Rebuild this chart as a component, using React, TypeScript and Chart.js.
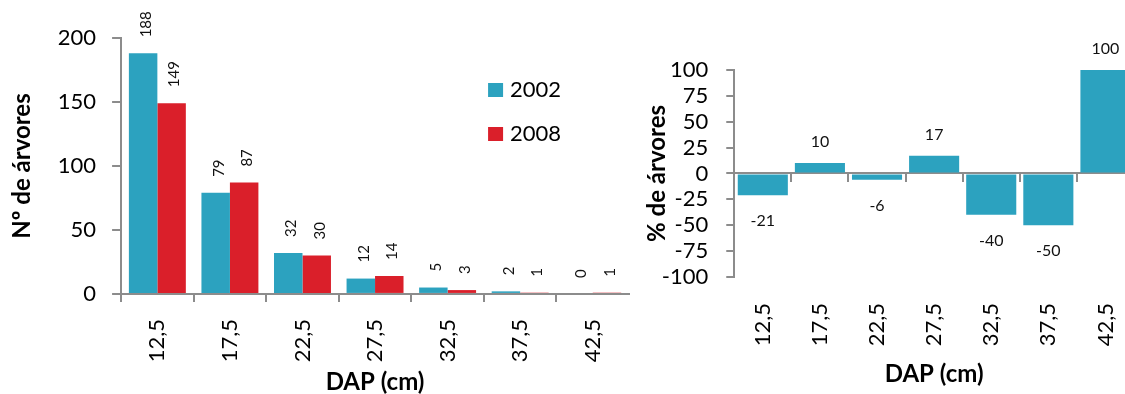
import React, { useEffect, useRef } from "react";
import { Chart, registerables } from "chart.js";

Chart.register(...registerables);

// ---- data ----
const categories = ["12,5", "17,5", "22,5", "27,5", "32,5", "37,5", "42,5"];
const seriesLabels = ["2002", "2008"];
const trees2002 = [188, 79, 32, 12, 5, 2, 0];
const trees2008 = [149, 87, 30, 14, 3, 1, 1];
const changePct = [-21, 10, -6, 17, -40, -50, 100];
const leftYTicks = { min: 0, max: 200, step: 50 };
const rightYTicks = { min: -100, max: 100, step: 25 };

// ---- styles ----
const FONT = "Lato";
const BLUE = "rgb(44,162,191)";
const RED = "rgb(218,31,42)";
const GRAY = "#8c8c8c";
const INK = "#000";

const noSidePadding = (scale: any) => {
  scale.paddingLeft = 0;
  scale.paddingRight = 0;
};

const rotatedValueLabels = {
  id: "rotatedValueLabels",
  afterDatasetsDraw(chart: any) {
    const ctx = chart.ctx;
    ctx.save();
    ctx.fillStyle = "#111";
    ctx.font = `15px ${FONT}`;
    ctx.textAlign = "left";
    ctx.textBaseline = "middle";
    chart.data.datasets.forEach((ds: any, i: number) => {
      const meta = chart.getDatasetMeta(i);
      meta.data.forEach((el: any, j: number) => {
        ctx.save();
        ctx.translate(el.x + 3, el.y - 16);
        ctx.rotate(-Math.PI / 2);
        ctx.fillText(String(ds.data[j]), 0, 0);
        ctx.restore();
      });
    });
    ctx.restore();
  },
};

const flatValueLabels = {
  id: "flatValueLabels",
  afterDatasetsDraw(chart: any) {
    const ctx = chart.ctx;
    ctx.save();
    ctx.fillStyle = "#111";
    ctx.font = `16px ${FONT}`;
    ctx.textAlign = "center";
    ctx.textBaseline = "middle";
    chart.data.datasets.forEach((ds: any, i: number) => {
      const meta = chart.getDatasetMeta(i);
      meta.data.forEach((el: any, j: number) => {
        const v = ds.data[j];
        const y = v >= 0 ? el.y - 21 : el.y + 26;
        ctx.fillText(String(v), el.x, y);
      });
    });
    ctx.restore();
  },
};

const boxLegend = {
  id: "boxLegend",
  afterDraw(chart: any) {
    const ctx = chart.ctx;
    const area = chart.chartArea;
    ctx.save();
    ctx.font = `22px ${FONT}`;
    ctx.textAlign = "left";
    ctx.textBaseline = "middle";
    chart.data.datasets.forEach((ds: any, i: number) => {
      const x = area.left + 367;
      const y = area.top + 45 + i * 44;
      ctx.fillStyle = ds.backgroundColor;
      ctx.fillRect(x, y, 15, 14);
      ctx.fillStyle = INK;
      ctx.fillText(ds.label, x + 22, y + 7);
    });
    ctx.restore();
  },
};

function leftConfig(): any {
  return {
    type: "bar",
    data: {
      labels: categories,
      datasets: [
        { label: seriesLabels[0], data: trees2002, backgroundColor: BLUE, categoryPercentage: 0.785, barPercentage: 1 },
        { label: seriesLabels[1], data: trees2008, backgroundColor: RED, categoryPercentage: 0.785, barPercentage: 1 },
      ],
    },
    options: {
      responsive: false,
      animation: false,
      layout: { padding: { top: 38, left: 0, right: 11, bottom: 0 } },
      plugins: { legend: { display: false }, tooltip: { enabled: false } },
      scales: {
        x: {
          offset: true,
          z: 1,
          afterFit: noSidePadding,
          grid: {
            offset: true,
            drawOnChartArea: false,
            drawTicks: true,
            tickLength: 8,
            lineWidth: 2,
            color: (c: any) => (c.type === "tick" ? GRAY : "rgba(0,0,0,0)"),
          },
          border: { display: true, color: GRAY, width: 2 },
          ticks: { autoSkip: false, minRotation: 90, maxRotation: 90, padding: 17, color: INK, font: { family: FONT, size: 22 } },
          title: { display: true, text: "DAP (cm)", color: INK, font: { family: FONT, size: 24, weight: "bold" }, padding: { top: -11, bottom: -3 } },
        },
        y: {
          min: leftYTicks.min,
          max: leftYTicks.max,
          ticks: { autoSkip: false, stepSize: leftYTicks.step, padding: 16, color: INK, font: { family: FONT, size: 22 } },
          grid: { drawOnChartArea: false, drawTicks: true, tickLength: 9, lineWidth: 2, color: GRAY },
          border: { display: true, color: GRAY, width: 2 },
          title: { display: true, text: "Nº de árvores", color: INK, font: { family: FONT, size: 24, weight: "bold" }, padding: { top: 8, bottom: 5 } },
        },
      },
    },
    plugins: [rotatedValueLabels, boxLegend],
  };
}

function rightConfig(): any {
  return {
    type: "bar",
    data: {
      labels: categories,
      datasets: [
        { label: "%", data: changePct, backgroundColor: BLUE, categoryPercentage: 0.877, barPercentage: 1 },
      ],
    },
    options: {
      responsive: false,
      animation: false,
      layout: { padding: { top: 70, left: 0, right: 6, bottom: 0 } },
      plugins: { legend: { display: false }, tooltip: { enabled: false } },
      scales: {
        x: {
          offset: true,
          afterFit: noSidePadding,
          grid: { display: false, drawTicks: false },
          border: { display: false },
          ticks: { autoSkip: false, minRotation: 90, maxRotation: 90, padding: 26, color: INK, font: { family: FONT, size: 22 } },
          title: { display: true, text: "DAP (cm)", color: INK, font: { family: FONT, size: 24, weight: "bold" }, padding: { top: -12, bottom: 5 } },
        },
        x2: {
          type: "category",
          axis: "x",
          position: { y: 0 },
          offset: true,
          z: 1,
          afterFit: noSidePadding,
          ticks: { display: false },
          grid: { offset: true, drawOnChartArea: false, drawTicks: true, tickLength: 8, lineWidth: 2, color: GRAY },
          border: { display: true, color: GRAY, width: 2 },
        },
        y: {
          min: rightYTicks.min,
          max: rightYTicks.max,
          ticks: { autoSkip: false, stepSize: rightYTicks.step, padding: 18, color: INK, font: { family: FONT, size: 22 } },
          grid: { drawOnChartArea: false, drawTicks: true, tickLength: 8, lineWidth: 2, color: GRAY },
          border: { display: true, color: GRAY, width: 2 },
          title: { display: true, text: "% de árvores", color: INK, font: { family: FONT, size: 24, weight: "bold" }, padding: { top: 3, bottom: -28 } },
        },
      },
    },
    plugins: [flatValueLabels],
  };
}

export default function App() {
  const leftRef = useRef<HTMLCanvasElement>(null);
  const rightRef = useRef<HTMLCanvasElement>(null);

  useEffect(() => {
    const c1 = new Chart(leftRef.current as HTMLCanvasElement, leftConfig());
    const c2 = new Chart(rightRef.current as HTMLCanvasElement, rightConfig());
    return () => {
      c1.destroy();
      c2.destroy();
    };
  }, []);

  return (
    <div style={{ position: "absolute", left: 0, top: 0, width: 1125, height: 394, overflow: "hidden", background: "#fff" }}>
      <div style={{ position: "absolute", left: 0, top: 0, width: 640, height: 394 }}>
        <canvas ref={leftRef} width={640} height={394} style={{ display: "block", width: 640, height: 394 }} />
      </div>
      <div style={{ position: "absolute", left: 640, top: 0, width: 500, height: 394 }}>
        <canvas ref={rightRef} width={500} height={394} style={{ display: "block", width: 500, height: 394 }} />
      </div>
    </div>
  );
}
